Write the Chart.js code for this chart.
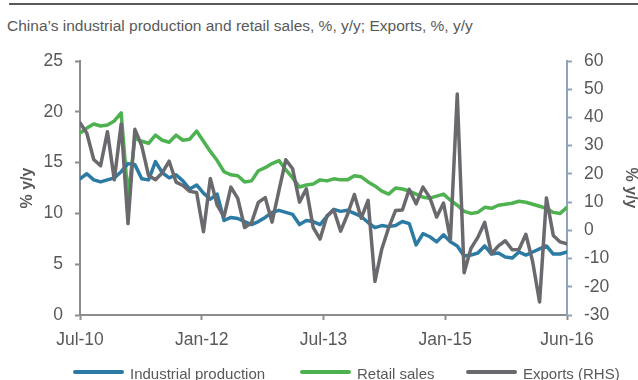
<!DOCTYPE html>
<html lang="en">
<head>
<meta charset="UTF-8">
<title>China: industrial production, retail sales and exports</title>
<script src="https://cdn.jsdelivr.net/npm/chart.js@4.4.0/dist/chart.umd.min.js"></script>
<style>
  body { margin: 0; width: 638px; height: 380px; overflow: hidden; background: #fff; position: relative;
         font-family: "Liberation Sans", Arial, sans-serif; }
  .rule { position: absolute; left: 9px; top: 3px; width: 629px; height: 2px; background: #58595b; }
  .title { position: absolute; left: 7px; top: 18px; font-size: 15.5px; line-height: 15.5px; color: #595959; white-space: nowrap; }
  #chart { position: absolute; left: 0; top: 0; }
  .key { position: absolute; top: 366px; font-size: 15px; line-height: 15px; color: #595959; white-space: nowrap; padding-left: 57px; }
  .key span { position: absolute; left: 0; top: 4px; width: 51px; height: 4px; border-radius: 2px; }
</style>
</head>
<body>
<div class="rule"></div>
<div class="title">China’s industrial production and retail sales, %, y/y; Exports, %, y/y</div>
<canvas id="chart" width="638" height="380"></canvas>
<div id="legend"></div>

<script>
// monthly, Jul-10 .. Jun-16
const months = [];
for (let i = 0; i < 72; i++) {
  const d = new Date(2010, 6 + i, 1);
  months.push(d.toLocaleString('en', { month: 'short' }) + '-' + String(d.getFullYear()).slice(2));
}
const tickLabels = ['Jul-10', 'Jan-12', 'Jul-13', 'Jan-15', 'Jun-16'];
const seriesNames = ['Industrial production', 'Retail sales', 'Exports (RHS)'];

// % y/y, left axis
const industrial = [
  13.4, 13.9, 13.3, 13.1, 13.3, 13.5,
  14.1, 14.9, 14.8, 13.4, 13.3, 15.1, 14.0, 13.5, 13.8, 13.2, 12.4, 12.8,
  12.0, 11.4, 11.9, 9.3, 9.6, 9.5, 9.2, 8.9, 9.2, 9.6, 10.1, 10.3,
  10.1, 9.9, 8.9, 9.3, 9.2, 8.9, 9.7, 10.4, 10.2, 10.3, 10.0, 9.7,
  9.1, 8.6, 8.8, 8.7, 8.8, 9.2, 9.0, 6.9, 8.0, 7.7, 7.2, 7.9,
  7.2, 6.8, 5.8, 5.9, 6.1, 6.8, 6.0, 6.1, 5.7, 5.6, 6.2, 5.9,
  6.2, 6.5, 6.8, 6.0, 6.0, 6.2
];
const retail = [
  17.9, 18.4, 18.8, 18.6, 18.7, 19.1,
  19.9, 11.6, 17.4, 17.1, 16.9, 17.7, 17.2, 17.0, 17.7, 17.2, 17.3, 18.1,
  17.1, 16.1, 15.2, 14.1, 13.8, 13.7, 13.1, 13.2, 14.2, 14.5, 14.9, 15.2,
  14.3, 13.5, 12.6, 12.8, 12.9, 13.3, 13.2, 13.4, 13.3, 13.3, 13.7, 13.6,
  13.1, 12.7, 12.2, 11.9, 12.5, 12.4, 12.2, 11.9, 11.6, 11.5, 11.7, 11.9,
  11.3, 10.8, 10.2, 10.0, 10.1, 10.6, 10.5, 10.8, 10.9, 11.0, 11.2, 11.1,
  10.9, 10.7, 10.5, 10.1, 10.0, 10.6
];
// % y/y, right axis
const exports = [
  38.1, 34.4, 25.1, 22.9, 34.9, 17.9,
  37.7, 2.4, 35.8, 29.9, 19.4, 17.9, 20.4, 24.5, 17.1, 15.9, 13.8, 13.4,
  -0.5, 18.4, 8.9, 4.9, 15.3, 11.3, 1.0, 2.7, 9.9, 11.6, 2.9, 14.1,
  25.0, 21.8, 10.0, 14.7, 1.0, -3.1, 5.1, 7.2, -0.3, 5.6, 12.7, 4.3,
  10.6, -18.1, -6.6, 0.9, 7.0, 7.2, 14.5, 9.4, 15.3, 11.6, 4.7, 9.7,
  -3.3, 48.3, -15.0, -6.4, -2.5, 2.8, -8.3, -5.5, -3.7, -6.9, -6.8, -1.4,
  -11.2, -25.4, 11.5, -1.8, -4.1, -4.8
];

const colors = ['#2c7ba4', '#4db24f', '#69696e'];
const grey = '#595959';

Chart.defaults.font.family = '"Liberation Sans", Arial, sans-serif';
Chart.defaults.color = grey;

const toPoints = s => s.map((v, i) => ({ x: i, y: v }));

const tickFont = { size: 17.5 };
const axisTitle = (pad) => ({
  display: true, text: '% y/y', color: grey,
  font: { size: 16, weight: 'bold', lineHeight: 1 },
  padding: { top: pad, bottom: 0 }
});

new Chart(document.getElementById('chart'), {
  type: 'line',
  data: {
    datasets: [
      { label: seriesNames[0], data: toPoints(industrial), borderColor: colors[0], yAxisID: 'y', order: 2 },
      { label: seriesNames[1], data: toPoints(retail), borderColor: colors[1], yAxisID: 'y', order: 3 },
      { label: seriesNames[2], data: toPoints(exports), borderColor: colors[2], yAxisID: 'y2', order: 1 }
    ]
  },
  options: {
    responsive: false,
    animation: false,
    layout: { padding: { top: 61, left: 0, right: 0, bottom: 0 } },
    elements: {
      point: { radius: 0 },
      line: { borderWidth: 3.5, tension: 0, borderJoinStyle: 'round', borderCapStyle: 'round', fill: false }
    },
    plugins: { legend: { display: false }, tooltip: { enabled: false } },
    scales: {
      x: {
        type: 'linear', min: 0, max: months.length - 1,
        border: { display: true, color: '#8c8c8c', width: 2 },
        grid: { drawOnChartArea: false, drawTicks: true, tickLength: 5, tickColor: '#8c8c8c', tickWidth: 2 },
        ticks: { count: tickLabels.length, padding: 10, font: tickFont, maxRotation: 0, autoSkip: false,
                 callback: (v, i) => tickLabels[i] },
        afterFit: s => { s.height = 65; }
      },
      y: {
        position: 'left', min: 0, max: 25,
        border: { display: true, color: '#8c8c8c', width: 2 },
        grid: { drawOnChartArea: false, drawTicks: true, tickLength: 5, tickColor: '#8c8c8c', tickWidth: 2 },
        ticks: { stepSize: 5, padding: 12, font: tickFont },
        title: axisTitle(19.5),
        afterFit: s => { s.width = 80; }
      },
      y2: {
        position: 'right', min: -30, max: 60,
        border: { display: true, color: '#8fa4ba', width: 2 },
        grid: { drawOnChartArea: false, drawTicks: true, tickLength: 5, tickColor: '#8fa4ba', tickWidth: 2 },
        ticks: { stepSize: 10, padding: 12, font: tickFont },
        title: axisTitle(0),
        afterFit: s => { s.width = 71; }
      }
    }
  }
});

// legend along the bottom edge
const keyLeft = [73, 300, 466];
const legend = document.getElementById('legend');
seriesNames.forEach((name, i) => {
  const item = document.createElement('div');
  item.className = 'key';
  item.style.left = keyLeft[i] + 'px';
  item.innerHTML = '<span style="background:' + colors[i] + '"></span>' + name;
  legend.appendChild(item);
});
</script>
</body>
</html>
